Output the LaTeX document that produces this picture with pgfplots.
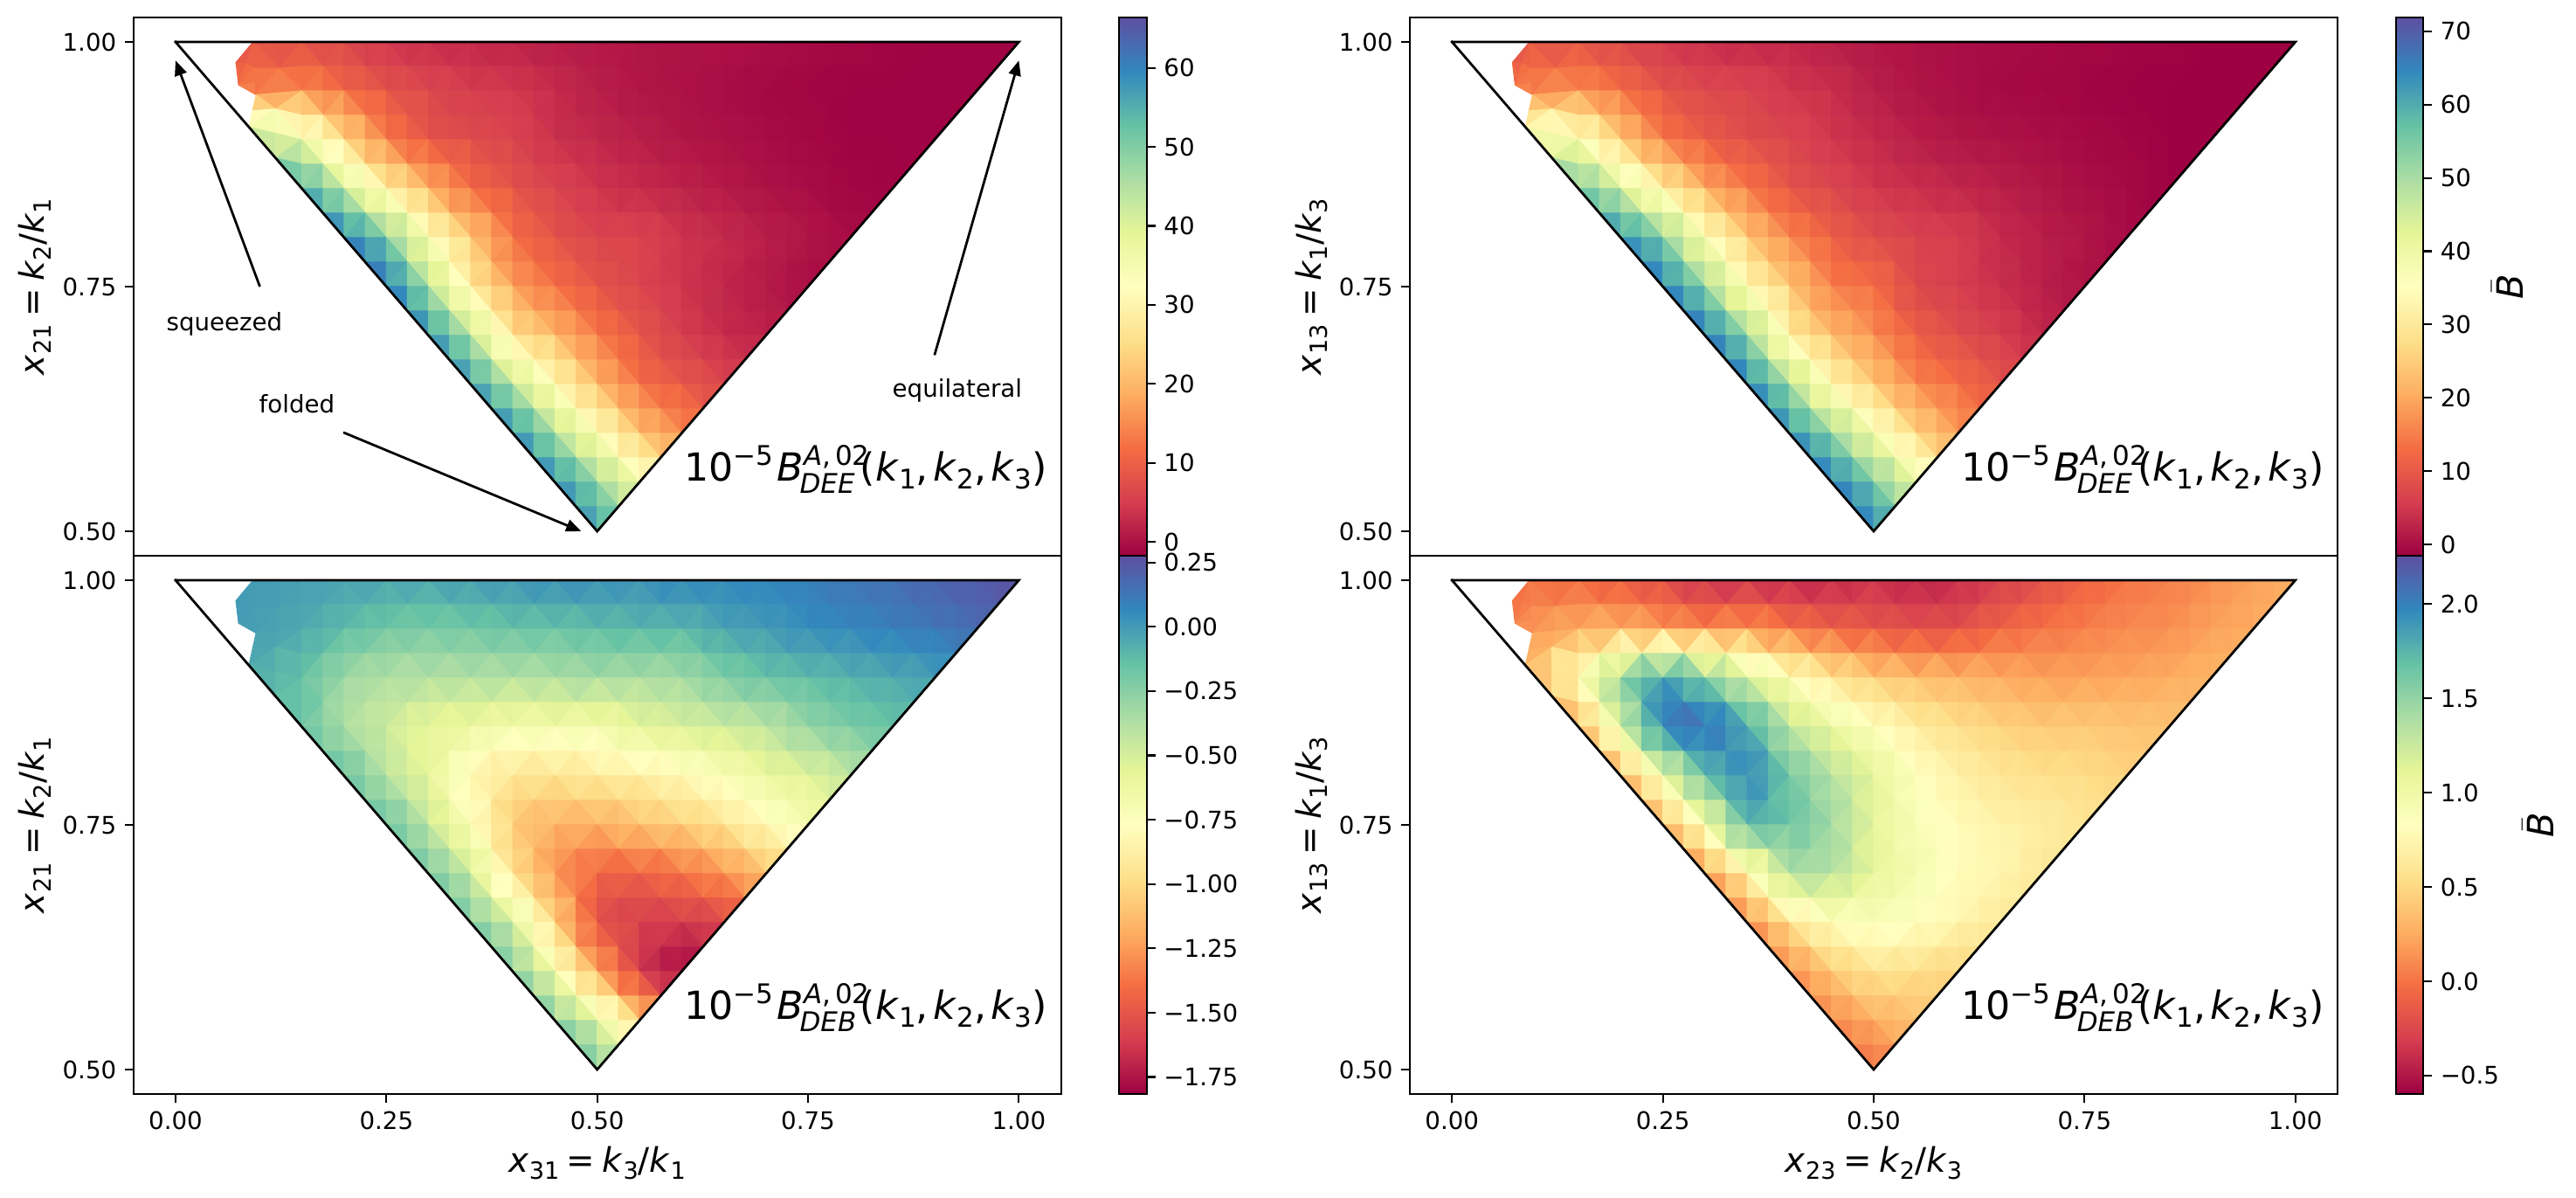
\documentclass[border=0pt]{standalone}
\usepackage{pgfplots}
\usepackage{pgfplotstable}
\usepackage{fontspec}
\setmainfont{DejaVu Sans}
\pgfplotsset{compat=1.18}
\usepgfplotslibrary{patchplots}
\usetikzlibrary{arrows.meta}
\pgfplotsset{
  colormap={spectral}{rgb255=(158,1,66) rgb255=(213,62,79) rgb255=(244,109,67) rgb255=(253,174,97) rgb255=(254,224,139) rgb255=(255,255,191) rgb255=(230,245,152) rgb255=(171,221,164) rgb255=(102,194,165) rgb255=(50,136,189) rgb255=(94,79,162)},
  colormap name=spectral,
}
% vertex values: x y, then one column per panel (rows at y = 1, .95, ... .5)
\pgfplotstableread{
x y a b c d
0.00 1.00 9 9 0 0
0.0716 0.979 9 9 0 0.0
0.092 1.00 8 9 0 -0.02
0.15 1.00 7 9 -0.02 -0.05
0.20 1.00 6 7 -0.03 -0.15
0.25 1.00 4 5 -0.03 -0.25
0.30 1.00 3 4 -0.03 -0.40
0.35 1.00 2.5 3 0 -0.40
0.40 1.00 2 3 0.02 -0.45
0.45 1.00 1.2 2 0.05 -0.45
0.50 1.00 0.8 1 0.05 -0.38
0.55 1.00 0.4 0.5 0.03 -0.45
0.60 1.00 0.2 0 0.08 -0.42
0.65 1.00 0 -0.3 0.07 -0.30
0.70 1.00 -0.3 -0.5 0.08 -0.22
0.75 1.00 -0.6 -0.8 0.10 -0.10
0.80 1.00 -1 -1 0.14 0
0.85 1.00 -1.3 -1.2 0.16 0.05
0.90 1.00 -1.5 -1.5 0.20 0.12
0.95 1.00 -1.5 -1.5 0.23 0.20
1.00 1.00 -1.5 -1.5 0.27 0.27
0.0748 0.956 13 15 0 0.05
0.0955 0.946 15 17 -0.02 0.20
0.15 0.95 15 17 -0.05 0.28
0.20 0.95 11 13 -0.12 0.30
0.25 0.95 8 9 -0.18 0.18
0.30 0.95 6.5 7.5 -0.20 0.10
0.35 0.95 5 7 -0.18 0.15
0.40 0.95 4.5 5 -0.15 0
0.45 0.95 3 4 -0.15 -0.10
0.50 0.95 1.5 2 -0.12 -0.15
0.55 0.95 0.5 0.8 -0.10 -0.20
0.60 0.95 0 0 -0.10 -0.20
0.65 0.95 -0.5 -0.5 -0.02 -0.08
0.70 0.95 -1 -0.8 0 0
0.75 0.95 -1.3 -1.2 0.05 0.05
0.80 0.95 -1.5 -1.5 0.07 0.10
0.85 0.95 -1.5 -1.5 0.10 0.12
0.90 0.95 -1.5 -1.5 0.13 0.20
0.95 0.95 -1.5 -1.5 0.17 0.25
0.087 0.913 40 36 -0.05 0.30
0.15 0.90 37 37 -0.15 0.90
0.20 0.90 24 24 -0.32 1.60
0.25 0.90 13 14 -0.38 1.95
0.30 0.90 8 10 -0.38 1.60
0.35 0.90 7 8 -0.38 1.15
0.40 0.90 6 7 -0.38 0.85
0.45 0.90 3.5 5 -0.36 0.60
0.50 0.90 2.5 3.5 -0.33 0.42
0.55 0.90 1.5 2 -0.35 0.35
0.60 0.90 0.5 1 -0.33 0.30
0.65 0.90 0 0.5 -0.22 0.25
0.70 0.90 -0.5 0 -0.15 0.20
0.75 0.90 -1 -0.5 -0.12 0.20
0.80 0.90 -1.5 -1 -0.08 0.22
0.85 0.90 -1.5 -1.5 -0.05 0.25
0.90 0.90 -1.5 -1.5 -0.02 0.30
0.15 0.85 57 57 -0.15 0.25
0.20 0.85 42 44 -0.38 1.20
0.25 0.85 29 31 -0.48 2.10
0.30 0.85 19 20 -0.60 2.20
0.35 0.85 11 14 -0.62 1.85
0.40 0.85 8 9 -0.68 1.30
0.45 0.85 6 7 -0.66 1.05
0.50 0.85 4 5 -0.68 0.85
0.55 0.85 3 4 -0.56 0.65
0.60 0.85 2 3 -0.52 0.55
0.65 0.85 1 2 -0.47 0.47
0.70 0.85 0 1 -0.42 0.42
0.75 0.85 -0.5 0 -0.28 0.42
0.80 0.85 -1.3 -0.5 -0.20 0.38
0.85 0.85 -1.5 -1.5 -0.15 0.38
0.20 0.80 62 65 -0.15 0.20
0.25 0.80 50 54 -0.42 1.05
0.30 0.80 33 36 -0.58 1.75
0.35 0.80 22 24 -0.85 2.05
0.40 0.80 12 16 -0.95 1.65
0.45 0.80 8 11 -0.95 1.35
0.50 0.80 6 8 -0.90 1.10
0.55 0.80 6 6.5 -0.88 0.85
0.60 0.80 4 6 -0.80 0.70
0.65 0.80 3 3.5 -0.72 0.60
0.70 0.80 1.5 2 -0.60 0.55
0.75 0.80 0.5 1 -0.55 0.53
0.80 0.80 -0.5 -0.5 -0.42 0.47
0.25 0.75 63 67 -0.15 0.25
0.30 0.75 45 52 -0.45 0.95
0.35 0.75 28 34 -0.75 1.80
0.40 0.75 17 24 -1.10 1.70
0.45 0.75 12 15 -1.18 1.45
0.50 0.75 8 13 -1.18 1.10
0.55 0.75 6 7 -1.10 0.90
0.60 0.75 4 6 -1.05 0.80
0.65 0.75 2.5 4 -0.95 0.72
0.70 0.75 1 2 -0.80 0.67
0.75 0.75 -0.5 0.5 -0.68 0.60
0.30 0.70 60 68 -0.17 0.10
0.35 0.70 44 52 -0.47 0.78
0.40 0.70 26 31 -0.98 1.42
0.45 0.70 20 22 -1.30 1.40
0.50 0.70 13 17 -1.45 1.10
0.55 0.70 8.5 11 -1.45 0.95
0.60 0.70 5 8 -1.38 0.80
0.65 0.70 3 6 -1.28 0.75
0.70 0.70 2 3 -1.12 0.62
0.35 0.65 59 67 -0.18 0.05
0.40 0.65 43 50 -0.50 0.60
0.45 0.65 31 33 -1.05 0.85
0.50 0.65 20 24 -1.55 0.90
0.55 0.65 12 16 -1.62 0.85
0.60 0.65 9 13 -1.62 0.75
0.65 0.65 6 9 -1.58 0.63
0.40 0.60 60 65 -0.20 0.10
0.45 0.60 45 52 -0.68 0.42
0.50 0.60 33 38 -1.22 0.60
0.55 0.60 21 26 -1.65 0.55
0.60 0.60 15 18 -1.80 0.48
0.45 0.55 60 67 -0.20 0.08
0.50 0.55 48 55 -0.55 0.28
0.55 0.55 36 41 -1.05 0.38
0.50 0.50 58 66 -0.18 -0.02
}\vals
% connectivity of the triangles, built row by row
\newcount\rj \newcount\rmm \newcount\sA \newcount\sB \newcount\ta \newcount\tb \newcount\ba \newcount\bb \newcount\lastm
\def\tris{}
\sA=0 \rj=0
\loop
  \sB=\sA \advance\sB by 21 \advance\sB by -\rj \advance\sB by -\rj
  \rmm=\rj
  \lastm=19 \advance\lastm by -\rj
  {\loop
    \ta=\sA \advance\ta by \rmm \advance\ta by -\rj
    \tb=\ta \advance\tb by 1
    \ba=\sB \advance\ba by \rmm \advance\ba by -\rj \advance\ba by -1
    \bb=\ba \advance\bb by 1
    \ifnum\rmm=\rj
      \ifnum\rj<2 \else \xdef\tris{\unexpanded\expandafter{\tris}\the\ta\space\the\tb\space\the\bb\noexpand\\}\fi
    \else
      \xdef\tris{\unexpanded\expandafter{\tris}\the\ta\space\the\tb\space\the\ba\noexpand\\}%
      \ifnum\rmm<\lastm \xdef\tris{\unexpanded\expandafter{\tris}\the\tb\space\the\ba\space\the\bb\noexpand\\}\fi
    \fi
    \ifnum\rmm<\lastm \advance\rmm by 1 \repeat}
  \sA=\sB
  \advance\rj by 1
  \ifnum\rj<10 \repeat
\def\mkpatch#1{\pgfplotsset{triP/.style={table/row sep=\\,patch table={#1}}}}
\expandafter\mkpatch\expandafter{\tris}

\newcommand\lsub[1]{\raisebox{-0.2em}{\fontsize{9.8}{10}\selectfont #1}}
\newcommand\AxL[3]{{\fontsize{14}{16}\selectfont\textit{#1}\lsub{#2}\hspace{.22em}=\hspace{.22em}#3}}
\newcommand\KK[2]{\textit{k}\lsub{#1}/\textit{k}\lsub{#2}}
\newcommand\bsub[1]{\raisebox{-0.2em}{\fontsize{11.2}{12}\selectfont #1}}
\newcommand\BigB[1]{{\fontsize{16}{18}\selectfont 10\raisebox{.42em}{\fontsize{11.2}{12}\selectfont −5}\hspace{.1em}\textit{B}\makebox[0pt][l]{\raisebox{.42em}{\fontsize{11.2}{12}\selectfont\textit{A},\,02}}\makebox[23.3bp][l]{\hspace{-.1em}\raisebox{-.3em}{\fontsize{11.2}{12}\selectfont\textit{#1}}}(\textit{k}\bsub{1},\hspace{.12em}\textit{k}\bsub{2},\hspace{.12em}\textit{k}\bsub{3})}}
\newcommand\BarB{{\fontsize{15}{17}\selectfont$\bar{\mbox{\itshape B}}$}}

\pgfplotsset{
  tri/.style={
    scale only axis, width=382.3bp, height=221.76bp,
    xmin=-0.05, xmax=1.05, ymin=0.475, ymax=1.025,
    axis line style={line width=.8pt},
    tick style={black, line width=.8pt},
    major tick length=3.5pt, tick align=outside,
    ytick pos=left, xtick pos=bottom,
    ytick={0.5,0.75,1}, yticklabels={0.50,0.75,1.00},
    xtick={0,0.25,0.5,0.75,1}, xticklabels={0.00,0.25,0.50,0.75,1.00},
    ticklabel style={font=\fontsize{10}{12}\selectfont},
    clip=false,
    colorbar,
    every axis y label/.style={at={(axis description cs:-0.106,0.5)},rotate=90,anchor=center},
    every axis x label/.style={at={(axis description cs:0.5,-0.128)},anchor=center},
  },
  notx/.style={xticklabels={}, xtick=\empty},
  cb/.style={
    colorbar style={
      at={(1.0628,0)}, anchor=south west,
      width=11.4bp, height=221.76bp,
      axis line style={line width=.8pt},
      tick style={black, line width=.8pt},
      major tick length=3.5pt,tick align=outside,ytick pos=right,
      yticklabel pos=right,
      ticklabel style={font=\fontsize{10}{12}\selectfont},
      every axis y label/.style={at={(axis description cs:#1,0.5)},rotate=90,anchor=center},
    }
  },
}
\newcommand\Tri[2]{\addplot[patch, patch refines=2, shader=flat, triP, point meta=explicit, #2] table[x=x,y=y,meta=#1] {\vals};
  \addplot[black, line width=1pt, line cap=rect, forget plot] coordinates {(0,1) (1,1) (0.5,0.5) (0,1)};}
\begin{document}
\begin{tikzpicture}[>={Triangle[length=6.2bp,width=5bp]}]
\path (0,0) rectangle (1061.64bp,493.2bp);
% bottom-left
\begin{axis}[tri, cb=0, at={(54.97bp,42.48bp)}, anchor=south west, point meta min=-1.816, point meta max=0.276,
  xlabel={\AxL{x}{31}{\KK{3}{1}}}, ylabel={\AxL{x}{21}{\KK{2}{1}}},
  colorbar style={ytick={-1.75,-1.5,-1.25,-1,-0.75,-0.5,-0.25,0,0.25},yticklabels={−1.75,−1.50,−1.25,−1.00,−0.75,−0.50,−0.25,0.00,0.25}}]
\Tri{c}{}
\node[anchor=base west,inner sep=0pt] at (axis cs:0.6025,0.551) {\BigB{DEB}};
\end{axis}
% bottom-right
\begin{axis}[tri, cb=5.14, at={(581.04bp,42.48bp)}, anchor=south west, point meta min=-0.598, point meta max=2.256,
  xlabel={\AxL{x}{23}{\KK{2}{3}}}, ylabel={\AxL{x}{13}{\KK{1}{3}}},
  colorbar style={ytick={-0.5,0,0.5,1,1.5,2},yticklabels={−0.5,0.0,0.5,1.0,1.5,2.0},ylabel={\BarB}}]
\Tri{d}{}
\node[anchor=base west,inner sep=0pt] at (axis cs:0.6035,0.551) {\BigB{DEB}};
\end{axis}
% top-left
\begin{axis}[tri, notx, cb=0, at={(54.97bp,264.24bp)}, anchor=south west, point meta min=-1.77, point meta max=66.4,
  ylabel={\AxL{x}{21}{\KK{2}{1}}},
  colorbar style={ytick={0,10,20,30,40,50,60},yticklabels={0,10,20,30,40,50,60}}]
\Tri{a}{}
\node[anchor=base west,inner sep=0pt] at (axis cs:0.6025,0.551) {\BigB{DEE}};
\node[font=\fontsize{10}{12}\selectfont] at (axis cs:0.058,0.712) {squeezed};
\node[font=\fontsize{10}{12}\selectfont] at (axis cs:0.144,0.63) {folded};
\node[font=\fontsize{10}{12}\selectfont] at (axis cs:0.927,0.644) {equilateral};
\draw[->,line width=1pt] (axis cs:0.100,0.750) -- (axis cs:0,0.981);
\draw[->,line width=1pt] (axis cs:0.199,0.601) -- (axis cs:0.481,0.5);
\draw[->,line width=1pt] (axis cs:0.90,0.68) -- (axis cs:1.0,0.981);
\end{axis}
% top-right
\begin{axis}[tri, notx, cb=4.03, at={(581.04bp,264.24bp)}, anchor=south west, point meta min=-1.55, point meta max=71.9,
  ylabel={\AxL{x}{13}{\KK{1}{3}}},
  colorbar style={ytick={0,10,20,30,40,50,60,70},yticklabels={0,10,20,30,40,50,60,70},ylabel={\BarB}}]
\Tri{b}{}
\node[anchor=base west,inner sep=0pt] at (axis cs:0.6035,0.551) {\BigB{DEE}};
\end{axis}
\end{tikzpicture}
\end{document}
